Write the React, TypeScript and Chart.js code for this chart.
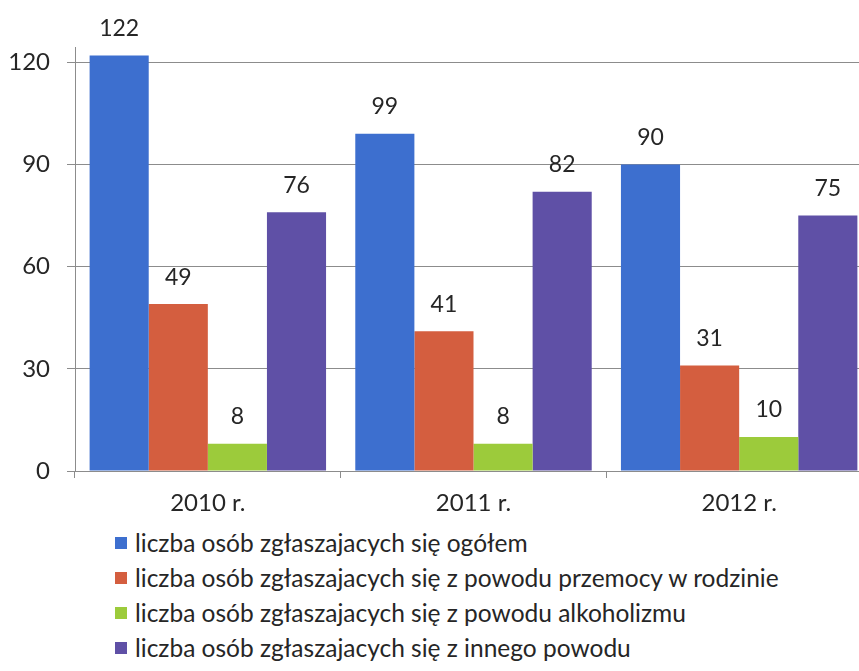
import React, { useEffect, useRef } from "react";
import { Chart, registerables } from "chart.js";

Chart.register(...registerables);

const categories = ["2010 r.", "2011 r.", "2012 r."];
const seriesNames = [
  "liczba osób zgłaszajacych się ogółem",
  "liczba osób zgłaszajacych się z powodu przemocy w rodzinie",
  "liczba osób zgłaszajacych się z powodu alkoholizmu",
  "liczba osób zgłaszajacych się z innego powodu",
];
const ogolem = [122, 99, 90];
const przemoc = [49, 41, 31];
const alkoholizm = [8, 8, 10];
const inne = [76, 82, 75];
const seriesColors = ["#3D6FCF", "#D45E3F", "#9CCB3B", "#5F50A6"];
const yTicks = [0, 30, 60, 90, 120];

const FONT = "Lato, 'Open Sans', sans-serif";
const TEXT = "#262626";

const valueLabels = {
  id: "valueLabels",
  afterDatasetsDraw(chart: any) {
    const ctx = chart.ctx;
    ctx.save();
    ctx.font = `23px ${FONT}`;
    ctx.fillStyle = TEXT;
    ctx.textAlign = "center";
    ctx.textBaseline = "middle";
    chart.data.datasets.forEach((ds: any, di: number) => {
      const meta = chart.getDatasetMeta(di);
      meta.data.forEach((el: any, i: number) => {
        ctx.fillText(String(ds.data[i]), el.x, el.y - 27);
      });
    });
    ctx.restore();
  },
};

export default function App() {
  const ref = useRef<HTMLCanvasElement>(null);
  useEffect(() => {
    if (!ref.current) return;
    const data = [ogolem, przemoc, alkoholizm, inne];
    const chart = new Chart(ref.current, {
      type: "bar",
      data: {
        labels: categories,
        datasets: data.map((d, i) => ({
          label: seriesNames[i],
          data: d,
          backgroundColor: seriesColors[i],
          borderWidth: 0,
          categoryPercentage: 0.89,
          barPercentage: 1,
        })),
      },
      options: {
        animation: false,
        responsive: false,
        maintainAspectRatio: false,
        layout: { padding: { top: 47, left: 0, right: 0, bottom: 0 } },
        plugins: { legend: { display: false }, tooltip: { enabled: false } },
        scales: {
          x: {
            grid: {
              display: true,
              drawOnChartArea: false,
              drawTicks: true,
              tickLength: 7,
              color: "#8c8c8c",
            },
            border: { display: true, color: "#8c8c8c" },
            ticks: {
              color: TEXT,
              font: { size: 24, family: FONT },
              padding: 11,
            },
            afterFit: (s: any) => {
              s.height = 49;
            },
          },
          y: {
            min: 0,
            max: 124.5,
            afterBuildTicks: (s: any) => {
              s.ticks = yTicks.map((v) => ({ value: v }));
            },
            grid: {
              color: "#8c8c8c",
              tickLength: 8,
            },
            border: { display: true, color: "#8c8c8c" },
            ticks: {
              color: TEXT,
              font: { size: 24, family: FONT },
              padding: 17,
            },
            afterFit: (s: any) => {
              s.width = 75;
            },
          },
        },
      },
      plugins: [valueLabels],
    });
    return () => chart.destroy();
  }, []);

  return (
    <div
      style={{
        position: "fixed",
        left: 0,
        top: 0,
        width: 859,
        height: 671,
        overflow: "hidden",
        background: "#ffffff",
      }}
    >
      <div style={{ position: "absolute", left: 0, top: 0, width: 872, height: 520 }}>
        <canvas ref={ref} width={872} height={520} style={{ width: 872, height: 520 }} />
      </div>
      <div
        style={{
          position: "absolute",
          left: 115,
          top: 525,
          fontFamily: FONT,
          fontSize: 24.5,
          color: TEXT,
        }}
      >
        {seriesNames.map((n, i) => (
          <div key={n} style={{ display: "flex", alignItems: "center", height: 35 }}>
            <span
              style={{
                display: "inline-block",
                width: 12,
                height: 12,
                background: seriesColors[i],
                marginRight: 8,
                flex: "none",
              }}
            />
            <span style={{ whiteSpace: "nowrap" }}>{n}</span>
          </div>
        ))}
      </div>
    </div>
  );
}
